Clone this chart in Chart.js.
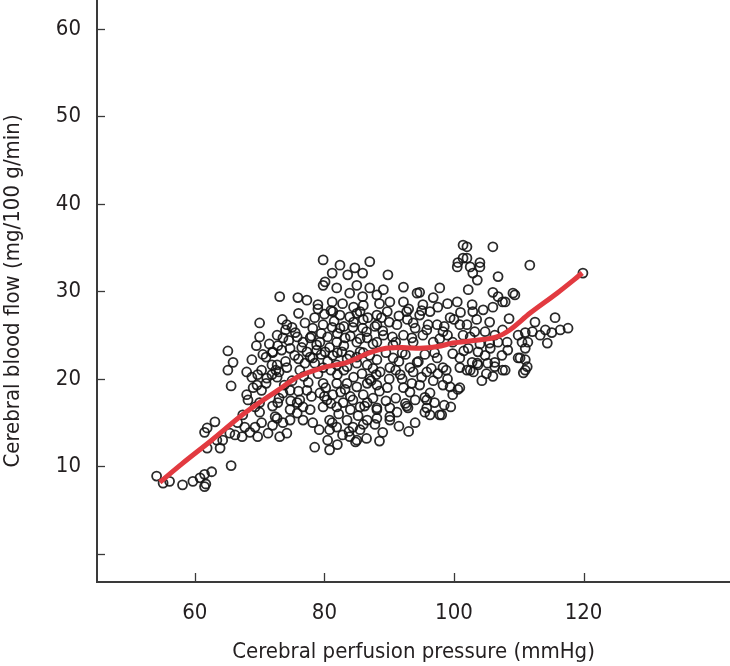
<!DOCTYPE html>
<html>
<head>
<meta charset="utf-8">
<script src="https://cdn.jsdelivr.net/npm/chart.js@4.4.1/dist/chart.umd.min.js"></script>
<style>
  html, body { margin: 0; padding: 0; background: #ffffff; }
  #wrap { width: 730px; height: 666px; }
</style>
</head>
<body>
<div id="wrap"><canvas id="c" width="730" height="666"></canvas></div>
<script>
// ---- Data ----
const xTickValues = [60, 80, 100, 120];
const yTickValues = [0, 10, 20, 30, 40, 50, 60];
const xTitle = 'Cerebral perfusion pressure (mmHg)';
const yTitle = 'Cerebral blood flow (mg/100 g/min)';

// Perfusion pressure (mmHg) of each observation
const cppValues = [
  54.1,55.1,56.1,58.1,59.7,60.8,61.5,62.6,65.6,61.5,61.7,
  63.9,61.9,63.4,63.1,61.9,61.5,65.6,65.1,65.9,65.1,70.0,
  68.8,68.0,68.8,69.7,70.3,71.1,71.9,72.0,71.9,69.6,70.3,68.2,69.3,70.0,67.4,66.6,67.7,68.5,67.3,66.2,65.4,69.3,70.3,71.3,72.0,69.7,72.7,64.3,
  79.8,82.4,84.7,87.0,85.9,83.6,81.2,80.1,79.8,81.9,85.0,83.9,85.9,87.0,73.1,75.9,77.3,79.0,81.2,81.3,82.4,83.9,85.5,86.7,
  74.2,75.0,78.2,79.8,81.2,82.4,84.4,85.9,72.7,73.6,75.8,76.7,77.8,79.3,80.5,81.9,83.2,85.0,86.6,
  72.0,73.4,74.7,75.4,77.3,78.8,78.2,80.1,81.3,82.7,83.9,85.5,87.0,72.7,74.2,76.2,81.9,83.5,85.0,86.6,79.8,
  72.7,73.6,72.8,72.4,73.6,74.7,74.2,73.1,75.8,76.7,76.2,77.8,78.2,79.3,80.4,81.3,79.8,81.9,82.9,84.4,85.5,86.6,
  80.8,81.9,80.8,83.5,84.4,83.9,85.5,86.6,78.5,80.8,81.9,83.5,85.0,86.6,79.8,77.3,74.7,76.7,75.8,74.7,
  101.4,101.4,100.5,89.8,92.2,89.1,88.1,90.1,94.3,97.8,96.8,95.2,92.2,92.7,89.7,88.1,94.7,96.3,100.5,99.4,100.9,97.4,93.7,91.2,88.1,
  89.1,92.2,95.2,98.3,101.4,88.1,90.6,93.7,96.8,99.8,88.1,90.6,94.3,97.4,100.9,90.1,93.2,
  88.6,91.7,93.7,95.8,98.3,100.9,88.1,89.7,92.2,93.2,94.7,96.3,98.3,99.8,100.9,88.1,90.1,91.2,88.1,90.1,92.9,95.8,96.3,97.8,
  106.0,111.7,102.0,102.0,104.0,102.9,103.6,106.8,102.2,106.0,106.8,109.4,107.9,106.0,102.8,102.9,
  112.5,115.6,114.1,116.4,117.6,115.1,113.3,112.1,111.0,114.4,102.0,103.2,104.8,106.3,109.9,111.4,110.5,108.2,106.8,
  105.6,108.3,111.0,102.2,103.7,102.8,104.8,106.3,107.4,109.9,111.0,103.7,105.2,107.9,111.0,111.3,102.0,106.3,
  100.6,102.5,104.0,94.7,109.1,107.5,88.1,90.1,92.7,95.5,98.1,95.8,99.4,100.6,102.5,103.6,107.5,110.2,110.7,119.9,
  78.5,80.5,82.0,83.0,84.5,85.8,87.5,79.0,77.0,76.0,74.0,73.0,75.0,77.5,80.0,82.5,84.0,86.0,87.5,88.5,89.5,91.0,92.5,94.0,95.5,97.0,98.5,99.5,
  91.5,92.5,95.5,96.5,98.8,99.8,101.5,89.5,90.5,94.0,96.0,98.5,100.0,101.0,91.5,93.0,95.0,97.5,99.0,88.5,86.0,84.5,
  83.0,81.5,80.0,78.5,77.0,76.0,84.5,86.5,87.5,85.5,83.0,80.8,78.8,76.5,79.5,82.0,84.0,86.0,82.0,74.5,73.5,71.5,70.5,69.5,
  71.0,69.0,68.0,70.0,72.0,73.0,103.5,104.5,105.5,104.0,105.5,107.5,108.5,102.5,103.0,105.0,104.3,106.0,
  89.0,91.5,94.0,86.5,84.8,82.0,87.8,93.0,88.5,
  80.2,81.0,82.2,83.2,84.0,85.2,86.2,87.2,83.8,82.8,85.0,86.0,81.2,79.2,80.5,88.0,87.0,85.0,83.5,81.0,
  79.5,77.8,76.8,78.0,76.0,74.8,73.8,72.5,90.0,91.0,92.0,93.5,95.0,96.8,97.5,99.0,94.5,92.0,97.0,90.0,
  89.0,92.8,95.8,97.8,99.0,93.5,91.0,88.8,87.8,86.0,85.0,82.8,81.0,79.0,78.0,75.5,74.0,72.8,71.0,70.0
];

// Cerebral blood flow (mg/100 g/min) of each observation
const cbfValues = [
  8.9,8.1,8.3,7.9,8.3,8.7,7.7,9.4,10.1,9.1,8.0,
  12.1,12.1,13.0,15.1,14.4,13.9,19.2,21.0,21.9,23.2,26.4,
  22.2,20.8,20.2,20.5,21.0,20.1,20.5,23.0,21.6,19.3,18.7,17.6,16.8,16.2,15.9,15.0,14.5,13.9,13.4,13.6,13.8,14.5,15.0,13.8,14.7,13.4,15.5,13.0,
  33.6,33.0,32.7,33.4,32.1,31.9,32.1,31.1,30.7,30.4,30.7,29.8,29.4,30.4,29.4,29.3,29.0,28.5,28.8,27.7,27.3,27.1,27.7,27.0,
  26.2,25.9,25.8,26.2,25.9,25.8,25.9,25.8,25.0,24.7,24.8,24.2,24.7,24.2,24.8,24.2,24.7,24.2,24.7,
  23.1,23.3,23.5,22.7,23.1,23.3,22.4,23.1,22.7,23.1,22.7,23.1,22.7,21.6,21.3,21.0,21.6,21.4,21.8,21.6,21.3,
  20.2,18.4,17.3,15.7,15.0,15.3,13.8,13.4,17.3,16.8,17.6,16.5,15.0,18.4,17.6,18.2,16.8,16.8,17.3,17.6,16.8,17.3,
  15.3,14.5,14.2,15.3,14.5,13.4,14.2,15.3,12.2,11.9,19.5,19.5,19.1,19.5,19.5,18.7,18.7,15.3,16.1,16.5,
  35.3,33.8,32.8,31.9,30.5,30.2,29.6,28.8,29.8,30.4,29.3,28.5,28.8,27.7,27.7,27.3,27.3,27.7,28.8,27.0,26.2,26.2,26.4,26.2,26.2,
  25.0,25.0,25.0,25.4,25.0,24.2,23.9,24.2,24.2,24.2,22.2,22.4,21.9,22.4,22.4,21.3,21.3,
  20.8,20.5,20.8,20.8,21.3,21.3,19.3,19.0,19.0,18.5,19.3,18.4,19.3,18.2,19.0,16.7,16.7,16.2,15.5,15.3,16.7,16.7,15.9,15.9,
  35.1,33.0,35.1,33.8,32.8,32.1,31.3,31.7,30.2,29.9,29.4,29.6,28.8,28.2,28.5,27.7,
  26.5,27.0,25.6,25.6,25.8,25.3,25.0,25.4,25.3,24.1,26.2,25.4,25.4,25.0,25.0,24.2,24.2,24.2,24.2,
  23.5,23.3,23.5,23.5,23.1,21.9,22.7,21.9,22.7,22.4,22.2,21.6,21.8,21.0,21.0,21.4,21.0,21.4,
  33.3,32.8,33.3,29.9,29.8,28.8,16.5,15.7,16.9,16.2,15.9,17.6,19.1,18.8,21.0,21.8,21.0,22.4,20.7,32.1,
  21.8,22.0,20.5,21.0,20.2,20.6,21.2,20.6,21.8,22.3,22.0,20.8,19.8,19.6,18.0,18.5,18.0,18.2,17.8,18.6,17.5,17.8,17.2,17.6,17.9,17.3,17.0,16.8,
  22.0,22.8,22.8,21.2,21.0,22.9,23.2,23.0,24.8,25.8,26.2,26.0,26.8,27.6,27.2,28.0,27.8,28.2,28.6,28.6,28.4,28.2,
  26.0,26.6,27.4,27.0,26.4,27.5,26.5,25.4,24.0,24.6,23.8,23.6,23.9,23.6,25.2,25.2,24.9,23.0,23.0,24.4,26.8,24.0,22.8,23.8,
  19.5,19.0,18.2,17.3,16.9,17.8,26.8,27.9,26.5,24.0,24.1,25.6,26.9,24.8,20.8,20.6,19.8,20.3,
  13.9,14.6,15.0,13.2,12.8,12.5,14.8,14.0,12.9,
  19.0,17.2,16.0,18.8,16.5,15.8,16.9,19.8,14.0,13.6,13.0,14.8,15.0,14.2,13.0,20.5,20.0,22.5,22.3,21.0,
  22.8,22.5,20.3,18.0,18.6,17.5,19.3,21.0,20.0,21.0,20.0,19.5,20.2,19.8,20.6,20.0,22.0,23.0,23.0,26.5,
  25.5,26.8,25.6,24.6,25.0,24.7,24.2,27.0,26.0,26.8,27.5,28.6,27.8,28.0,24.9,25.3,25.6,23.8,22.5,24.8
];

// Smoothed (LOESS-like) curve
const fitX = [54.6, 58.0, 62.6, 67.7, 72.8, 75.8, 79.8, 83.5, 87.0, 89.5, 92.0, 94.7, 97.5, 99.8, 103.0, 106.6, 108.6, 111.7, 115.9, 119.8];
const fitY = [8.2, 10.3, 13.0, 16.1, 18.7, 20.2, 21.3, 21.9, 23.0, 23.5, 23.6, 23.5, 23.7, 24.1, 24.4, 24.8, 25.6, 27.5, 29.8, 32.1];

// ---- Build chart ----
const scatterPts = cppValues.map((x, i) => ({ x: x, y: cbfValues[i] }));
const fitPts = fitX.map((x, i) => ({ x: x, y: fitY[i] }));

const FONT = "'Liberation Sans Narrow', 'DejaVu Sans Condensed', 'Arial Narrow', sans-serif";
const TEXT = '#231f20';
const AXIS = '#3a3a3a';

const innerTicks = {
  id: 'innerTicks',
  afterDraw(chart) {
    const ctx = chart.ctx;
    const xs = chart.scales.x, ys = chart.scales.y;
    const area = chart.chartArea;
    ctx.save();
    ctx.strokeStyle = AXIS;
    ctx.lineWidth = 1.3;
    xs.ticks.forEach((t, i) => {
      const px = Math.round(xs.getPixelForTick(i)) + 0.5;
      ctx.beginPath();
      ctx.moveTo(px, area.bottom);
      ctx.lineTo(px, area.bottom - 9);
      ctx.stroke();
    });
    ys.ticks.forEach((t, i) => {
      const py = Math.round(ys.getPixelForTick(i)) + 0.5;
      ctx.beginPath();
      ctx.moveTo(area.left, py);
      ctx.lineTo(area.left + 8, py);
      ctx.stroke();
    });
    ctx.restore();
  }
};

new Chart(document.getElementById('c'), {
  type: 'scatter',
  data: {
    datasets: [
      {
        label: 'Smoothed fit',
        data: fitPts,
        showLine: true,
        borderColor: '#e23a40',
        borderWidth: 5,
        pointRadius: 0,
        fill: false,
        cubicInterpolationMode: 'monotone',
        order: 0
      },
      {
        label: 'Observations',
        data: scatterPts,
        pointStyle: 'circle',
        pointRadius: 4.5,
        pointBorderWidth: 1.8,
        borderColor: 'rgba(20,20,20,0.9)',
        backgroundColor: 'rgba(0,0,0,0)',
        showLine: false,
        order: 1
      }
    ]
  },
  options: {
    responsive: false,
    animation: false,
    devicePixelRatio: 1,
    layout: { padding: 0, autoPadding: false },
    plugins: {
      legend: { display: false },
      tooltip: { enabled: false }
    },
    scales: {
      x: {
        type: 'linear',
        min: 44.9,
        max: 142.6,
        afterBuildTicks: (s) => { s.ticks = xTickValues.map(v => ({ value: v })); },
        afterFit: (s) => { s.height = 84; s.paddingLeft = 0; s.paddingRight = 0; },
        grid: { display: false, drawTicks: false },
        border: { display: true, color: AXIS, width: 2 },
        ticks: {
          color: TEXT,
          padding: 18,
          font: { family: FONT, size: 22 },
          callback: (v) => String(v)
        },
        title: {
          display: true,
          text: xTitle,
          color: TEXT,
          font: { family: FONT, size: 22 },
          padding: { top: 0, bottom: 1 }
        }
      },
      y: {
        type: 'linear',
        min: -3.2,
        max: 63.3,
        afterBuildTicks: (s) => { s.ticks = yTickValues.map(v => ({ value: v })); },
        afterFit: (s) => { s.width = 97; s.paddingTop = 0; s.paddingBottom = 0; },
        grid: { display: false, drawTicks: false },
        border: { display: true, color: AXIS, width: 2 },
        ticks: {
          color: TEXT,
          padding: 16,
          font: { family: FONT, size: 22 },
          callback: (v) => (v === 0 ? '' : String(v))
        },
        title: {
          display: true,
          text: yTitle,
          color: TEXT,
          font: { family: FONT, size: 22 },
          padding: { top: 0, bottom: 0 }
        }
      }
    }
  },
  plugins: [innerTicks]
});
</script>
</body>
</html>
